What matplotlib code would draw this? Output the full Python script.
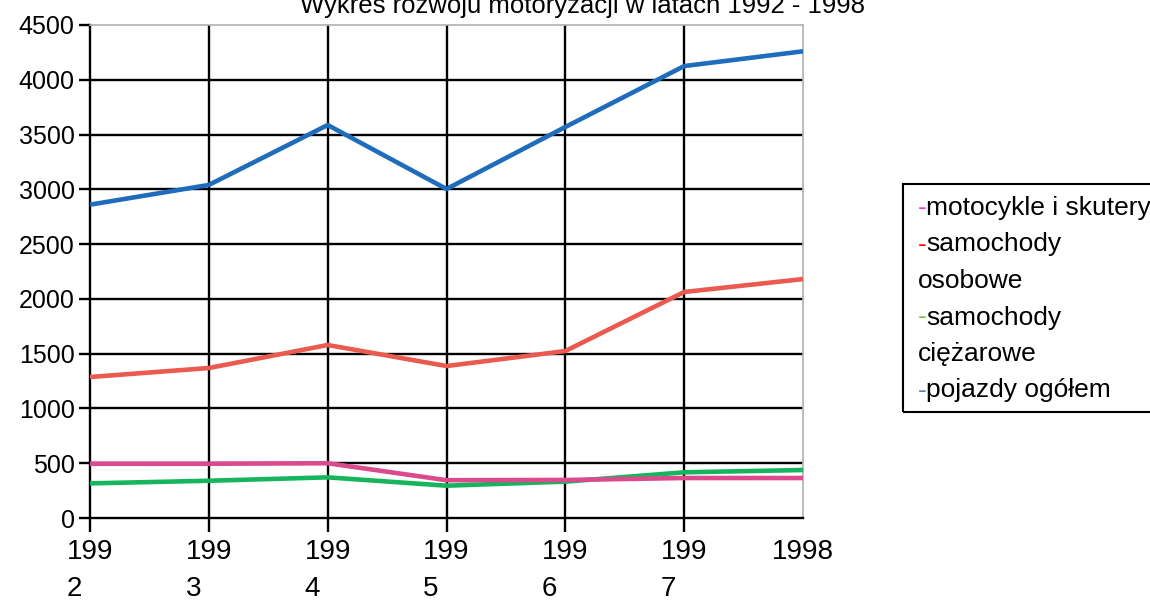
import matplotlib
matplotlib.use("Agg")
import matplotlib.pyplot as plt
from matplotlib.patches import Rectangle

plt.rcParams['font.family'] = ['Liberation Sans', 'DejaVu Sans']

# data
years = [1992, 1993, 1994, 1995, 1996, 1997, 1998]
year_labels = ['199\n2', '199\n3', '199\n4', '199\n5', '199\n6', '199\n7', '1998']
motocykle = [495, 495, 500, 345, 347, 365, 365]
osobowe = [1287, 1369, 1579, 1387, 1524, 2063, 2181]
ciezarowe = [316, 340, 371, 295, 332, 417, 438]
ogolem = [2860, 3040, 3587, 3003, 3569, 4125, 4260]
y_ticks = [0, 500, 1000, 1500, 2000, 2500, 3000, 3500, 4000, 4500]

legend_lines = [
    ('-', '#ff33cc', 'motocykle i skutery'),
    ('-', '#ff0000', 'samochody'),
    ('', None, 'osobowe'),
    ('-', '#7dc242', 'samochody'),
    ('', None, 'ciężarowe'),
    ('-', '#4f81bd', 'pojazdy ogółem'),
]

fig = plt.figure(figsize=(11.5, 6.1), dpi=100)
ax = fig.add_axes([90/1150, 92/610, 713/1150, 493/610])

ax.set_xlim(years[0], years[-1])
ax.set_ylim(0, 4500)

# grid
for y in y_ticks[1:-1]:
    ax.axhline(y, color='black', lw=1.7, zorder=1)
for x in years[1:-1]:
    ax.axvline(x, color='black', lw=1.7, zorder=1)

ax.plot(years, ogolem, color='#1f6cbd', lw=3.3, zorder=3, solid_capstyle='butt')
ax.plot(years, osobowe, color='#ea5a50', lw=3.3, zorder=3, solid_capstyle='butt')
ax.plot(years, ciezarowe, color='#16b45c', lw=3.3, zorder=3, solid_capstyle='butt')
ax.plot(years, motocykle, color='#dc4a8e', lw=3.3, zorder=3, solid_capstyle='butt')

for side in ['top', 'right']:
    ax.spines[side].set_color('#b0b0b0')
    ax.spines[side].set_linewidth(1.2)
for side in ['left', 'bottom']:
    ax.spines[side].set_color('black')
    ax.spines[side].set_linewidth(1.7)

ax.set_yticks(y_ticks)
ax.set_yticklabels([str(v) for v in y_ticks])
ax.set_xticks(years)
ax.set_xticklabels(year_labels, multialignment='left', linespacing=1.55)
ax.tick_params(axis='y', length=8, width=1.7, labelsize=18, pad=3)
ax.tick_params(axis='x', length=10, width=1.7, labelsize=20, pad=5)
ax.xaxis.get_majorticklines()[-2].set_visible(False)  # no tick at 1998

fig.text(583/1150, 1 - 13/610, 'Wykres rozwoju motoryzacji w latach 1992 - 1998',
         ha='center', va='baseline', fontsize=18.5)

# legend box
fig.patches.append(Rectangle((903/1150, 1 - 412/610), 260/1150, 228/610,
                             transform=fig.transFigure, fill=False,
                             edgecolor='black', lw=1.5))
y0 = 208
for i, (dash, col, txt) in enumerate(legend_lines):
    yy = 1 - (y0 + i * 36.5) / 610
    if dash:
        fig.text(918/1150, yy, dash, color=col, ha='left', va='center', fontsize=19)
    fig.text(926/1150 if dash else 918/1150, yy, txt, ha='left', va='center', fontsize=19)

fig.savefig('out.png', dpi=100)
